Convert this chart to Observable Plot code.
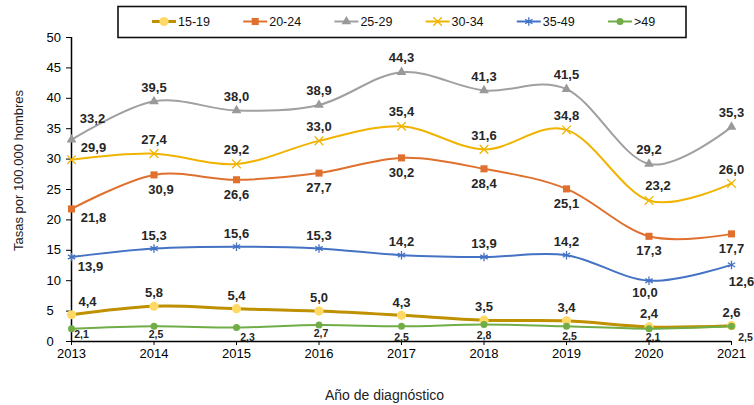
<!DOCTYPE html>
<html>
<head>
<meta charset="utf-8">
<script src="https://cdn.jsdelivr.net/npm/d3@7"></script>
<script src="https://cdn.jsdelivr.net/npm/@observablehq/plot@0.6"></script>
<style>
  body { margin: 0; background: #fff; }
  #wrap { position: relative; width: 754px; height: 405px; font-family: "Liberation Sans", Arial, sans-serif; }
  #legend { position: absolute; left: 0; top: 0; }
</style>
</head>
<body>
<div id="wrap"></div>
<script>
// ---- data ----
const years = [2013, 2014, 2015, 2016, 2017, 2018, 2019, 2020, 2021];
const seriesNames = ["15-19", "20-24", "25-29", "30-34", "35-49", ">49"];
const s1519 = [4.4, 5.8, 5.4, 5.0, 4.3, 3.5, 3.4, 2.4, 2.6];
const s2024 = [21.8, 27.4, 26.6, 27.7, 30.2, 28.4, 25.1, 17.3, 17.7];
const s2529 = [33.2, 39.5, 38.0, 38.9, 44.3, 41.3, 41.5, 29.2, 35.3];
const s3034 = [29.9, 30.9, 29.2, 33.0, 35.4, 31.6, 34.8, 23.2, 26.0];
const s3549 = [13.9, 15.3, 15.6, 15.3, 14.2, 13.9, 14.2, 10.0, 12.6];
const s49   = [2.1, 2.5, 2.3, 2.7, 2.5, 2.8, 2.5, 2.1, 2.5];
// data labels as printed in the source (2014 labels of 20-24 and 30-34 appear swapped there)
const lab2024 = ["21,8", "30,9", "26,6", "27,7", "30,2", "28,4", "25,1", "17,3", "17,7"];
const lab3034 = ["29,9", "27,4", "29,2", "33,0", "35,4", "31,6", "34,8", "23,2", "26,0"];
const yTicks = [0, 5, 10, 15, 20, 25, 30, 35, 40, 45, 50];
const xTitle = "Año de diagnóstico";
const yTitle = "Tasas por 100.000 hombres";

// ---- styling (code, not data) ----
const fmt = v => v.toFixed(1).replace(".", ",");
const values = [s1519, s2024, s2529, s3034, s3549, s49];
const labels = [s1519.map(fmt), lab2024, s2529.map(fmt), lab3034, s3549.map(fmt), s49.map(fmt)];
const styles = {
  "15-19": {color: "#BF9000", sw: 3, symbol: "circle", mfill: "#FFD966", mstroke: "none", r: 4.6, off: [0, -13], fs: 13},
  "20-24": {color: "#E0702E", sw: 2, symbol: "square", mfill: "#E0702E", mstroke: "none", r: 4, off: [0, 15], fs: 13},
  "25-29": {color: "#A0A0A0", sw: 2, symbol: "triangle", mfill: "#999999", mstroke: "none", r: 3.6, off: [0, -14], fs: 13},
  "30-34": {color: "#F0B400", sw: 2, symbol: "times", mfill: "none", mstroke: "#F0B400", r: 4, off: [0, -14], fs: 13},
  "35-49": {color: "#4472C4", sw: 2, symbol: "asterisk", mfill: "none", mstroke: "#4472C4", r: 4, off: [0, -13], fs: 13},
  ">49":   {color: "#70AD47", sw: 2, symbol: "circle", mfill: "#70AD47", mstroke: "none", r: 3.5, off: [0, 10], fs: 10.5}
};
const overrides = {
  "15-19": {2013: [16, -13]},
  "20-24": {2013: [22, 9], 2014: [7, 15]},
  "25-29": {2013: [21, -21]},
  "30-34": {2013: [22, -12], 2020: [9, -15]},
  "35-49": {2013: [19, 10], 2020: [-4, 12], 2021: [10, 17]},
  ">49":   {2013: [10, 6], 2014: [2, 8], 2015: [11, 10], 2016: [2, 9], 2017: [0, 11], 2018: [0, 11], 2019: [3, 10], 2020: [4, 9], 2021: [14, 11]}
};

const rows = seriesNames.flatMap((name, i) =>
  years.map((year, j) => ({series: name, year, value: values[i][j], label: labels[i][j]})));

const marks = [
  Plot.ruleY([0], {stroke: "#000", strokeWidth: 1.5}),
  Plot.ruleX([2013], {stroke: "#000", strokeWidth: 1.5}),
  Plot.axisX({ticks: years, tickFormat: "d", tickSize: 4, tickPadding: 3, label: null, fontSize: 13}),
  Plot.axisY({ticks: yTicks, tickSize: 5, tickPadding: 20, textAnchor: "start", label: null, fontSize: 13}),
  Plot.text([xTitle], {frameAnchor: "bottom", text: d => d, dx: -17, dy: 54, lineAnchor: "middle", textAnchor: "middle", fontSize: 14, fill: "#222"}),
  Plot.text([yTitle], {frameAnchor: "left", text: d => d, rotate: -90, dx: -53, dy: -19, lineAnchor: "middle", textAnchor: "middle", fontSize: 13, fill: "#222"})
];

for (const name of seriesNames) {
  const st = styles[name];
  const data = rows.filter(d => d.series === name);
  marks.push(Plot.line(data, {x: "year", y: "value", stroke: st.color, strokeWidth: st.sw, curve: "cardinal"}));
  marks.push(Plot.dot(data, {x: "year", y: "value", symbol: st.symbol, r: st.r, fill: st.mfill, stroke: st.mstroke, strokeWidth: 1.3}));
}
for (const name of seriesNames) {
  const st = styles[name];
  for (const d of rows.filter(r => r.series === name)) {
    const o = (overrides[name] && overrides[name][d.year]) || st.off;
    marks.push(Plot.text([d], {x: "year", y: "value", text: "label", dx: o[0], dy: o[1],
      fontWeight: "bold", fontSize: st.fs, fill: "#262626"}));
  }
}

const chart = Plot.plot({
  width: 754, height: 405,
  marginLeft: 71, marginRight: 23, marginTop: 37, marginBottom: 64,
  style: {fontFamily: '"Liberation Sans", Arial, sans-serif', fontSize: "13px", color: "#000", background: "#fff"},
  x: {domain: [2013, 2021]},
  y: {domain: [0, 50]},
  marks
});
const wrap = document.getElementById("wrap");
wrap.appendChild(chart);

// ---- legend (separate SVG overlay) ----
const leg = d3.select(wrap).append("svg").attr("id", "legend").attr("width", 754).attr("height", 45);
leg.append("rect").attr("x", 118).attr("y", 6.5).attr("width", 568).attr("height", 31)
  .attr("fill", "#fff").attr("stroke", "#111").attr("stroke-width", 1.6);
const symMap = {circle: d3.symbolCircle, square: d3.symbolSquare, triangle: d3.symbolTriangle, times: d3.symbolTimes, asterisk: d3.symbolAsterisk};
seriesNames.forEach((name, i) => {
  const st = styles[name];
  const x0 = 152 + i * 91.2, cy = 21.5;
  const g = leg.append("g");
  g.append("line").attr("x1", x0).attr("x2", x0 + 24).attr("y1", cy).attr("y2", cy)
    .attr("stroke", st.color).attr("stroke-width", st.sw);
  g.append("path").attr("transform", `translate(${x0 + 12},${cy})`)
    .attr("d", d3.symbol(symMap[st.symbol], Math.PI * st.r * st.r)())
    .attr("fill", st.mfill).attr("stroke", st.mstroke).attr("stroke-width", 1.3);
  g.append("text").attr("x", x0 + 26).attr("y", cy).attr("dy", "0.35em")
    .attr("font-size", 12.5).attr("fill", "#111").text(name);
});
</script>
</body>
</html>
